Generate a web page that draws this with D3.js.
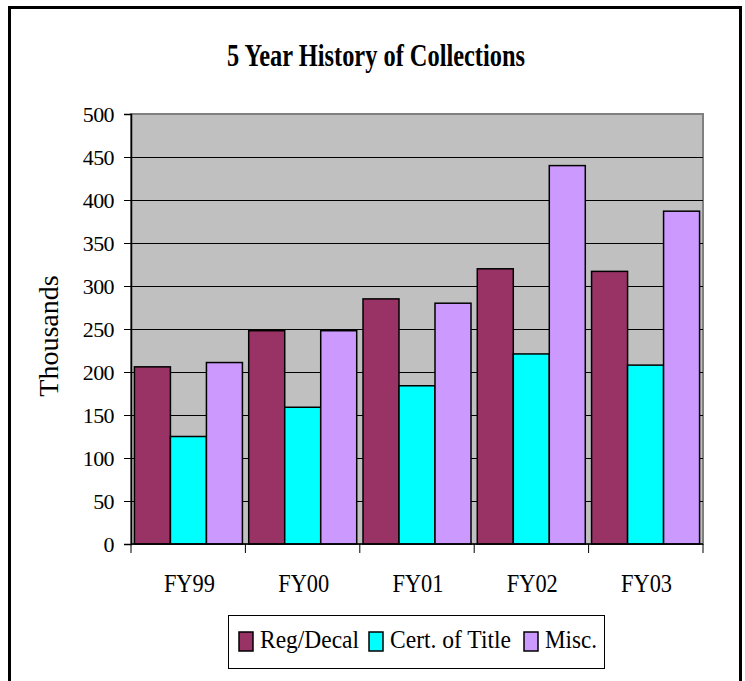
<!DOCTYPE html>
<html>
<head>
<meta charset="utf-8">
<script src="https://cdn.jsdelivr.net/npm/d3@7"></script>
<style>
  html, body { margin: 0; padding: 0; background: #fff; }
  svg { display: block; }
  text { font-family: "Liberation Serif", "Times New Roman", serif; fill: #000; }
</style>
</head>
<body>
<div id="chart"></div>
<script>
const years = ["FY99", "FY00", "FY01", "FY02", "FY03"];
const seriesNames = ["Reg/Decal", "Cert. of Title", "Misc."];
const regDecal = [206, 248, 285, 320, 317];
const certTitle = [125, 159, 184, 221, 208];
const misc = [211, 248, 280, 440, 387];
const yTicks = [0, 50, 100, 150, 200, 250, 300, 350, 400, 450, 500];
const seriesColors = ["#993366", "#00ffff", "#cc99ff"];

const width = 745, height = 681;
const plot = { left: 131, right: 703, top: 114, bottom: 544 };

const svg = d3.select("#chart").append("svg")
    .attr("width", width)
    .attr("height", height);

// ── Outer frame ──
svg.append("rect")
    .attr("x", 9.5).attr("y", 7.5)
    .attr("width", 731).attr("height", 690)
    .attr("fill", "#fff")
    .attr("stroke", "#000")
    .attr("stroke-width", 3);

// ── Title (the original font is a squeezed Times) ──
svg.append("text")
    .attr("x", 227).attr("y", 66)
    .attr("font-size", 31)
    .attr("font-weight", "bold")
    .attr("textLength", 298)
    .attr("lengthAdjust", "spacingAndGlyphs")
    .text("5 Year History of Collections");

const x0 = d3.scaleBand()
    .domain(years)
    .range([plot.left, plot.right])
    .paddingInner(0.055)
    .paddingOuter(0.03);

const x1 = d3.scaleBand()
    .domain(seriesNames)
    .range([0, x0.bandwidth()]);

const y = d3.scaleLinear()
    .domain([0, 500])
    .range([plot.bottom, plot.top]);

// ── Plot background ──
svg.append("rect")
    .attr("x", plot.left).attr("y", plot.top)
    .attr("width", plot.right - plot.left)
    .attr("height", plot.bottom - plot.top)
    .attr("fill", "#c0c0c0")
    .attr("stroke", "#808080")
    .attr("stroke-width", 2);

// ── Gridlines ──
svg.append("g")
    .selectAll("line")
    .data(yTicks.filter(d => d > 0 && d < 500))
    .join("line")
    .attr("x1", plot.left).attr("x2", plot.right)
    .attr("y1", d => Math.round(y(d)) + 0.5)
    .attr("y2", d => Math.round(y(d)) + 0.5)
    .attr("stroke", "#000")
    .attr("stroke-width", 1);

// ── Bars ──
const rows = years.map((yr, i) => ({
    year: yr,
    values: [regDecal[i], certTitle[i], misc[i]]
}));

svg.append("g")
    .selectAll("g")
    .data(rows)
    .join("g")
    .attr("transform", d => `translate(${x0(d.year)},0)`)
    .selectAll("rect")
    .data(d => d.values.map((v, k) => ({ name: seriesNames[k], value: v, k })))
    .join("rect")
    .attr("x", d => x1(d.name))
    .attr("y", d => y(d.value))
    .attr("width", x1.bandwidth())
    .attr("height", d => plot.bottom - y(d.value))
    .attr("fill", d => seriesColors[d.k])
    .attr("stroke", "#000")
    .attr("stroke-width", 1.5);

// ── Y axis ──
const yAxis = svg.append("g")
    .attr("transform", `translate(${plot.left},0)`)
    .call(d3.axisLeft(y).tickValues(yTicks).tickSize(7).tickPadding(10));
yAxis.select(".domain").attr("stroke", "#000").attr("stroke-width", 1.5);
yAxis.selectAll(".tick line").attr("stroke", "#000");
yAxis.selectAll(".tick text")
    .attr("font-family", "Liberation Serif, serif")
    .attr("font-size", 22)
    .attr("letter-spacing", -0.6);

// ── X axis ──
const xAxis = svg.append("g")
    .attr("transform", `translate(0,${plot.bottom})`);
xAxis.append("line")
    .attr("x1", plot.left).attr("x2", plot.right)
    .attr("y1", 0).attr("y2", 0)
    .attr("stroke", "#000").attr("stroke-width", 1.5);
const boundaries = d3.range(years.length + 1)
    .map(i => plot.left + i * (plot.right - plot.left) / years.length);
xAxis.selectAll(".xtick")
    .data(boundaries)
    .join("line")
    .attr("class", "xtick")
    .attr("x1", d => d).attr("x2", d => d)
    .attr("y1", 0).attr("y2", 9)
    .attr("stroke", "#000");
xAxis.selectAll(".xlabel")
    .data(years)
    .join("text")
    .attr("class", "xlabel")
    .attr("x", d => x0(d) + x0.bandwidth() / 2 + 1)
    .attr("y", 48)
    .attr("text-anchor", "middle")
    .attr("font-size", 25)
    .attr("textLength", 51)
    .attr("lengthAdjust", "spacingAndGlyphs")
    .text(d => d);

// ── Y label ──
svg.append("text")
    .attr("transform", "translate(58,336) rotate(-90)")
    .attr("text-anchor", "middle")
    .attr("font-size", 28)
    .text("Thousands");

// ── Legend ──
const legend = svg.append("g");
legend.append("rect")
    .attr("x", 228.5).attr("y", 615.5)
    .attr("width", 376).attr("height", 53)
    .attr("fill", "#fff")
    .attr("stroke", "#000")
    .attr("stroke-width", 1);

const legendX = [239, 369, 524];
const legendTextW = [99, 121, 52];
seriesNames.forEach((name, k) => {
    legend.append("rect")
        .attr("x", legendX[k]).attr("y", 632)
        .attr("width", 14).attr("height", 19)
        .attr("fill", seriesColors[k])
        .attr("stroke", "#000")
        .attr("stroke-width", 1.5);
    legend.append("text")
        .attr("x", legendX[k] + 21).attr("y", 648)
        .attr("font-size", 26)
        .attr("textLength", legendTextW[k])
        .attr("lengthAdjust", "spacingAndGlyphs")
        .text(name);
});
</script>
</body>
</html>
